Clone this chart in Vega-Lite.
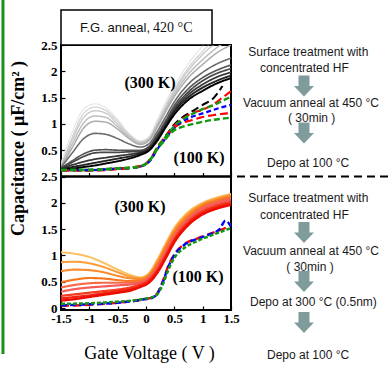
{
"$schema": "https://vega.github.io/schema/vega-lite/v6.json",
"width": 170,
"height": 265,
"autosize": {"type": "none"},
"padding": {"left": 61, "top": 45, "right": 159, "bottom": 56},
"background": "white",
"config": {
  "view": {"stroke": null},
  "axis": {"labelFont": "Liberation Serif", "labelFontWeight": "bold", "labelFontSize": 13, "labelColor": "#000", "tickColor": "#000", "tickWidth": 1.2, "grid": false, "domain": false, "labelFlush": false, "labelOverlap": false}
},
"datasets": {
  "top": [
    {"s":"g1","v":-1.5,"c":0.25},{"s":"g1","v":-1.3,"c":0.85},{"s":"g1","v":-1.1,"c":1.28},{"s":"g1","v":-0.9,"c":1.38},{"s":"g1","v":-0.7,"c":1.3},{"s":"g1","v":-0.5,"c":1.08},{"s":"g1","v":-0.3,"c":0.82},{"s":"g1","v":-0.1,"c":0.68},{"s":"g1","v":0.05,"c":0.76},{"s":"g1","v":0.2,"c":1.08},{"s":"g1","v":0.35,"c":1.42},{"s":"g1","v":0.5,"c":1.72},{"s":"g1","v":0.75,"c":2.15},{"s":"g1","v":1,"c":2.48},{"s":"g1","v":1.25,"c":2.8},{"s":"g1","v":1.5,"c":3.05},
    {"s":"g2","v":-1.5,"c":0.2},{"s":"g2","v":-1.3,"c":0.75},{"s":"g2","v":-1.1,"c":1.2},{"s":"g2","v":-0.9,"c":1.32},{"s":"g2","v":-0.7,"c":1.25},{"s":"g2","v":-0.5,"c":1.05},{"s":"g2","v":-0.3,"c":0.8},{"s":"g2","v":-0.1,"c":0.66},{"s":"g2","v":0.05,"c":0.73},{"s":"g2","v":0.2,"c":1.03},{"s":"g2","v":0.35,"c":1.36},{"s":"g2","v":0.5,"c":1.66},{"s":"g2","v":0.75,"c":2.07},{"s":"g2","v":1,"c":2.38},{"s":"g2","v":1.25,"c":2.65},{"s":"g2","v":1.5,"c":2.88},
    {"s":"g3","v":-1.5,"c":0.2},{"s":"g3","v":-1.3,"c":0.7},{"s":"g3","v":-1.1,"c":1.12},{"s":"g3","v":-0.9,"c":1.25},{"s":"g3","v":-0.7,"c":1.2},{"s":"g3","v":-0.5,"c":1.0},{"s":"g3","v":-0.3,"c":0.78},{"s":"g3","v":-0.1,"c":0.65},{"s":"g3","v":0.05,"c":0.72},{"s":"g3","v":0.2,"c":1.0},{"s":"g3","v":0.35,"c":1.32},{"s":"g3","v":0.5,"c":1.62},{"s":"g3","v":0.75,"c":2.02},{"s":"g3","v":1,"c":2.32},{"s":"g3","v":1.25,"c":2.56},{"s":"g3","v":1.5,"c":2.75},
    {"s":"g4","v":-1.5,"c":0.19},{"s":"g4","v":-1.3,"c":0.62},{"s":"g4","v":-1.1,"c":1.02},{"s":"g4","v":-0.9,"c":1.15},{"s":"g4","v":-0.7,"c":1.12},{"s":"g4","v":-0.5,"c":0.95},{"s":"g4","v":-0.3,"c":0.75},{"s":"g4","v":-0.1,"c":0.63},{"s":"g4","v":0.05,"c":0.7},{"s":"g4","v":0.2,"c":0.97},{"s":"g4","v":0.35,"c":1.28},{"s":"g4","v":0.5,"c":1.57},{"s":"g4","v":0.75,"c":1.95},{"s":"g4","v":1,"c":2.22},{"s":"g4","v":1.25,"c":2.45},{"s":"g4","v":1.5,"c":2.62},
    {"s":"g5","v":-1.5,"c":0.18},{"s":"g5","v":-1.3,"c":0.55},{"s":"g5","v":-1.1,"c":0.92},{"s":"g5","v":-0.9,"c":1.05},{"s":"g5","v":-0.7,"c":1.03},{"s":"g5","v":-0.5,"c":0.9},{"s":"g5","v":-0.3,"c":0.72},{"s":"g5","v":-0.1,"c":0.61},{"s":"g5","v":0.05,"c":0.68},{"s":"g5","v":0.2,"c":0.94},{"s":"g5","v":0.35,"c":1.24},{"s":"g5","v":0.5,"c":1.52},{"s":"g5","v":0.75,"c":1.88},{"s":"g5","v":1,"c":2.13},{"s":"g5","v":1.25,"c":2.35},{"s":"g5","v":1.5,"c":2.5},
    {"s":"g6","v":-1.5,"c":0.17},{"s":"g6","v":-1.3,"c":0.45},{"s":"g6","v":-1.1,"c":0.72},{"s":"g6","v":-0.9,"c":0.82},{"s":"g6","v":-0.7,"c":0.8},{"s":"g6","v":-0.5,"c":0.72},{"s":"g6","v":-0.3,"c":0.62},{"s":"g6","v":-0.1,"c":0.56},{"s":"g6","v":0.05,"c":0.62},{"s":"g6","v":0.2,"c":0.86},{"s":"g6","v":0.35,"c":1.14},{"s":"g6","v":0.5,"c":1.42},{"s":"g6","v":0.75,"c":1.76},{"s":"g6","v":1,"c":1.98},{"s":"g6","v":1.25,"c":2.14},{"s":"g6","v":1.5,"c":2.25},
    {"s":"g7","v":-1.5,"c":0.16},{"s":"g7","v":-1.3,"c":0.3},{"s":"g7","v":-1.1,"c":0.43},{"s":"g7","v":-0.9,"c":0.5},{"s":"g7","v":-0.7,"c":0.51},{"s":"g7","v":-0.5,"c":0.5},{"s":"g7","v":-0.3,"c":0.5},{"s":"g7","v":-0.1,"c":0.5},{"s":"g7","v":0.05,"c":0.57},{"s":"g7","v":0.2,"c":0.8},{"s":"g7","v":0.35,"c":1.07},{"s":"g7","v":0.5,"c":1.35},{"s":"g7","v":0.75,"c":1.67},{"s":"g7","v":1,"c":1.88},{"s":"g7","v":1.25,"c":2.02},{"s":"g7","v":1.5,"c":2.12},
    {"s":"g8","v":-1.5,"c":0.15},{"s":"g8","v":-1.3,"c":0.27},{"s":"g8","v":-1.1,"c":0.38},{"s":"g8","v":-0.9,"c":0.45},{"s":"g8","v":-0.7,"c":0.46},{"s":"g8","v":-0.5,"c":0.46},{"s":"g8","v":-0.3,"c":0.47},{"s":"g8","v":-0.1,"c":0.48},{"s":"g8","v":0.05,"c":0.55},{"s":"g8","v":0.2,"c":0.77},{"s":"g8","v":0.35,"c":1.03},{"s":"g8","v":0.5,"c":1.3},{"s":"g8","v":0.75,"c":1.61},{"s":"g8","v":1,"c":1.82},{"s":"g8","v":1.25,"c":1.96},{"s":"g8","v":1.5,"c":2.05},
    {"s":"g9","v":-1.5,"c":0.15},{"s":"g9","v":-1.3,"c":0.22},{"s":"g9","v":-1.1,"c":0.28},{"s":"g9","v":-0.9,"c":0.33},{"s":"g9","v":-0.7,"c":0.36},{"s":"g9","v":-0.5,"c":0.39},{"s":"g9","v":-0.3,"c":0.42},{"s":"g9","v":-0.1,"c":0.46},{"s":"g9","v":0.05,"c":0.53},{"s":"g9","v":0.2,"c":0.74},{"s":"g9","v":0.35,"c":1.0},{"s":"g9","v":0.5,"c":1.26},{"s":"g9","v":0.75,"c":1.56},{"s":"g9","v":1,"c":1.75},{"s":"g9","v":1.25,"c":1.89},{"s":"g9","v":1.5,"c":1.98},
    {"s":"g10","v":-1.5,"c":0.14},{"s":"g10","v":-1.3,"c":0.18},{"s":"g10","v":-1.1,"c":0.22},{"s":"g10","v":-0.9,"c":0.26},{"s":"g10","v":-0.7,"c":0.3},{"s":"g10","v":-0.5,"c":0.34},{"s":"g10","v":-0.3,"c":0.38},{"s":"g10","v":-0.1,"c":0.44},{"s":"g10","v":0.05,"c":0.51},{"s":"g10","v":0.2,"c":0.71},{"s":"g10","v":0.35,"c":0.97},{"s":"g10","v":0.5,"c":1.23},{"s":"g10","v":0.75,"c":1.51},{"s":"g10","v":1,"c":1.69},{"s":"g10","v":1.25,"c":1.82},{"s":"g10","v":1.5,"c":1.92},
    {"s":"g11","v":-1.5,"c":0.13},{"s":"g11","v":-1.3,"c":0.15},{"s":"g11","v":-1.1,"c":0.18},{"s":"g11","v":-0.9,"c":0.21},{"s":"g11","v":-0.7,"c":0.25},{"s":"g11","v":-0.5,"c":0.29},{"s":"g11","v":-0.3,"c":0.34},{"s":"g11","v":-0.1,"c":0.41},{"s":"g11","v":0.05,"c":0.49},{"s":"g11","v":0.2,"c":0.68},{"s":"g11","v":0.35,"c":0.94},{"s":"g11","v":0.5,"c":1.18},{"s":"g11","v":0.75,"c":1.46},{"s":"g11","v":1,"c":1.63},{"s":"g11","v":1.25,"c":1.77},{"s":"g11","v":1.5,"c":1.87},
    {"s":"k","v":-1.5,"c":0.13},{"s":"k","v":-1,"c":0.13},{"s":"k","v":-0.5,"c":0.15},{"s":"k","v":-0.2,"c":0.17},{"s":"k","v":0,"c":0.24},{"s":"k","v":0.1,"c":0.36},{"s":"k","v":0.2,"c":0.55},{"s":"k","v":0.3,"c":0.7},{"s":"k","v":0.4,"c":0.85},{"s":"k","v":0.5,"c":0.99},{"s":"k","v":0.6,"c":1.09},{"s":"k","v":0.8,"c":1.23},{"s":"k","v":1,"c":1.36},{"s":"k","v":1.2,"c":1.5},{"s":"k","v":1.35,"c":1.72},
    {"s":"r1","v":-1.5,"c":0.12},{"s":"r1","v":-1,"c":0.12},{"s":"r1","v":-0.5,"c":0.15},{"s":"r1","v":-0.2,"c":0.18},{"s":"r1","v":0,"c":0.25},{"s":"r1","v":0.1,"c":0.37},{"s":"r1","v":0.2,"c":0.56},{"s":"r1","v":0.3,"c":0.7},{"s":"r1","v":0.4,"c":0.84},{"s":"r1","v":0.5,"c":0.97},{"s":"r1","v":0.6,"c":1.06},{"s":"r1","v":0.8,"c":1.2},{"s":"r1","v":1,"c":1.27},{"s":"r1","v":1.2,"c":1.38},{"s":"r1","v":1.35,"c":1.5},{"s":"r1","v":1.5,"c":1.62},
    {"s":"r2","v":-1.5,"c":0.11},{"s":"r2","v":-1,"c":0.11},{"s":"r2","v":-0.5,"c":0.14},{"s":"r2","v":-0.2,"c":0.17},{"s":"r2","v":0,"c":0.24},{"s":"r2","v":0.1,"c":0.35},{"s":"r2","v":0.2,"c":0.53},{"s":"r2","v":0.3,"c":0.67},{"s":"r2","v":0.4,"c":0.81},{"s":"r2","v":0.5,"c":0.93},{"s":"r2","v":0.6,"c":1.0},{"s":"r2","v":0.8,"c":1.07},{"s":"r2","v":1,"c":1.13},{"s":"r2","v":1.2,"c":1.17},{"s":"r2","v":1.35,"c":1.19},{"s":"r2","v":1.5,"c":1.21},
    {"s":"b","v":-1.5,"c":0.12},{"s":"b","v":-1,"c":0.12},{"s":"b","v":-0.5,"c":0.15},{"s":"b","v":-0.2,"c":0.17},{"s":"b","v":0,"c":0.23},{"s":"b","v":0.1,"c":0.34},{"s":"b","v":0.2,"c":0.52},{"s":"b","v":0.3,"c":0.66},{"s":"b","v":0.4,"c":0.8},{"s":"b","v":0.5,"c":0.93},{"s":"b","v":0.6,"c":1.02},{"s":"b","v":0.8,"c":1.13},{"s":"b","v":1,"c":1.2},{"s":"b","v":1.2,"c":1.27},{"s":"b","v":1.35,"c":1.32},{"s":"b","v":1.5,"c":1.36},
    {"s":"e1","v":-1.5,"c":0.13},{"s":"e1","v":-1,"c":0.13},{"s":"e1","v":-0.5,"c":0.16},{"s":"e1","v":-0.2,"c":0.18},{"s":"e1","v":0,"c":0.25},{"s":"e1","v":0.1,"c":0.36},{"s":"e1","v":0.2,"c":0.55},{"s":"e1","v":0.3,"c":0.69},{"s":"e1","v":0.4,"c":0.83},{"s":"e1","v":0.5,"c":0.96},{"s":"e1","v":0.6,"c":1.05},{"s":"e1","v":0.8,"c":1.18},{"s":"e1","v":1,"c":1.28},{"s":"e1","v":1.2,"c":1.36},{"s":"e1","v":1.35,"c":1.44},{"s":"e1","v":1.5,"c":1.52},
    {"s":"e2","v":-1.5,"c":0.12},{"s":"e2","v":-1,"c":0.12},{"s":"e2","v":-0.5,"c":0.15},{"s":"e2","v":-0.2,"c":0.17},{"s":"e2","v":0,"c":0.24},{"s":"e2","v":0.1,"c":0.35},{"s":"e2","v":0.2,"c":0.52},{"s":"e2","v":0.3,"c":0.65},{"s":"e2","v":0.4,"c":0.78},{"s":"e2","v":0.5,"c":0.88},{"s":"e2","v":0.6,"c":0.93},{"s":"e2","v":0.8,"c":0.99},{"s":"e2","v":1,"c":1.04},{"s":"e2","v":1.2,"c":1.08},{"s":"e2","v":1.35,"c":1.1},{"s":"e2","v":1.5,"c":1.12}
  ],
  "bot": [
    {"s":"o1","v":-1.5,"c":1.06},{"s":"o1","v":-1.25,"c":1.03},{"s":"o1","v":-1,"c":0.97},{"s":"o1","v":-0.75,"c":0.86},{"s":"o1","v":-0.5,"c":0.73},{"s":"o1","v":-0.25,"c":0.62},{"s":"o1","v":-0.1,"c":0.58},{"s":"o1","v":0.05,"c":0.66},{"s":"o1","v":0.2,"c":0.92},{"s":"o1","v":0.35,"c":1.23},{"s":"o1","v":0.5,"c":1.52},{"s":"o1","v":0.75,"c":1.83},{"s":"o1","v":1,"c":2.0},{"s":"o1","v":1.25,"c":2.1},{"s":"o1","v":1.5,"c":2.17},
    {"s":"o2","v":-1.5,"c":0.87},{"s":"o2","v":-1.25,"c":0.88},{"s":"o2","v":-1,"c":0.85},{"s":"o2","v":-0.75,"c":0.78},{"s":"o2","v":-0.5,"c":0.68},{"s":"o2","v":-0.25,"c":0.59},{"s":"o2","v":-0.1,"c":0.57},{"s":"o2","v":0.05,"c":0.64},{"s":"o2","v":0.2,"c":0.89},{"s":"o2","v":0.35,"c":1.2},{"s":"o2","v":0.5,"c":1.49},{"s":"o2","v":0.75,"c":1.8},{"s":"o2","v":1,"c":1.98},{"s":"o2","v":1.25,"c":2.08},{"s":"o2","v":1.5,"c":2.15},
    {"s":"o3","v":-1.5,"c":0.7},{"s":"o3","v":-1.25,"c":0.73},{"s":"o3","v":-1,"c":0.72},{"s":"o3","v":-0.75,"c":0.68},{"s":"o3","v":-0.5,"c":0.61},{"s":"o3","v":-0.25,"c":0.56},{"s":"o3","v":-0.1,"c":0.55},{"s":"o3","v":0.05,"c":0.62},{"s":"o3","v":0.2,"c":0.86},{"s":"o3","v":0.35,"c":1.17},{"s":"o3","v":0.5,"c":1.46},{"s":"o3","v":0.75,"c":1.77},{"s":"o3","v":1,"c":1.96},{"s":"o3","v":1.25,"c":2.06},{"s":"o3","v":1.5,"c":2.13},
    {"s":"o4","v":-1.5,"c":0.49},{"s":"o4","v":-1.25,"c":0.54},{"s":"o4","v":-1,"c":0.57},{"s":"o4","v":-0.75,"c":0.56},{"s":"o4","v":-0.5,"c":0.53},{"s":"o4","v":-0.25,"c":0.51},{"s":"o4","v":-0.1,"c":0.52},{"s":"o4","v":0.05,"c":0.6},{"s":"o4","v":0.2,"c":0.83},{"s":"o4","v":0.35,"c":1.13},{"s":"o4","v":0.5,"c":1.42},{"s":"o4","v":0.75,"c":1.74},{"s":"o4","v":1,"c":1.94},{"s":"o4","v":1.25,"c":2.04},{"s":"o4","v":1.5,"c":2.11},
    {"s":"o5","v":-1.5,"c":0.39},{"s":"o5","v":-1.25,"c":0.44},{"s":"o5","v":-1,"c":0.47},{"s":"o5","v":-0.75,"c":0.48},{"s":"o5","v":-0.5,"c":0.48},{"s":"o5","v":-0.25,"c":0.48},{"s":"o5","v":-0.1,"c":0.5},{"s":"o5","v":0.05,"c":0.58},{"s":"o5","v":0.2,"c":0.8},{"s":"o5","v":0.35,"c":1.1},{"s":"o5","v":0.5,"c":1.39},{"s":"o5","v":0.75,"c":1.71},{"s":"o5","v":1,"c":1.91},{"s":"o5","v":1.25,"c":2.02},{"s":"o5","v":1.5,"c":2.09},
    {"s":"o6","v":-1.5,"c":0.31},{"s":"o6","v":-1.25,"c":0.36},{"s":"o6","v":-1,"c":0.39},{"s":"o6","v":-0.75,"c":0.41},{"s":"o6","v":-0.5,"c":0.43},{"s":"o6","v":-0.25,"c":0.45},{"s":"o6","v":-0.1,"c":0.48},{"s":"o6","v":0.05,"c":0.56},{"s":"o6","v":0.2,"c":0.77},{"s":"o6","v":0.35,"c":1.06},{"s":"o6","v":0.5,"c":1.35},{"s":"o6","v":0.75,"c":1.68},{"s":"o6","v":1,"c":1.88},{"s":"o6","v":1.25,"c":1.99},{"s":"o6","v":1.5,"c":2.06},
    {"s":"o7","v":-1.5,"c":0.23},{"s":"o7","v":-1.25,"c":0.26},{"s":"o7","v":-1,"c":0.29},{"s":"o7","v":-0.75,"c":0.32},{"s":"o7","v":-0.5,"c":0.35},{"s":"o7","v":-0.25,"c":0.4},{"s":"o7","v":-0.1,"c":0.45},{"s":"o7","v":0.05,"c":0.53},{"s":"o7","v":0.2,"c":0.73},{"s":"o7","v":0.35,"c":1.01},{"s":"o7","v":0.5,"c":1.31},{"s":"o7","v":0.75,"c":1.64},{"s":"o7","v":1,"c":1.84},{"s":"o7","v":1.25,"c":1.95},{"s":"o7","v":1.5,"c":2.02},
    {"s":"o8","v":-1.5,"c":0.18},{"s":"o8","v":-1.25,"c":0.21},{"s":"o8","v":-1,"c":0.24},{"s":"o8","v":-0.75,"c":0.28},{"s":"o8","v":-0.5,"c":0.32},{"s":"o8","v":-0.25,"c":0.37},{"s":"o8","v":-0.1,"c":0.42},{"s":"o8","v":0.05,"c":0.5},{"s":"o8","v":0.2,"c":0.7},{"s":"o8","v":0.35,"c":0.98},{"s":"o8","v":0.5,"c":1.28},{"s":"o8","v":0.75,"c":1.61},{"s":"o8","v":1,"c":1.81},{"s":"o8","v":1.25,"c":1.92},{"s":"o8","v":1.5,"c":1.99},
    {"s":"o9","v":-1.5,"c":0.14},{"s":"o9","v":-1.25,"c":0.17},{"s":"o9","v":-1,"c":0.21},{"s":"o9","v":-0.75,"c":0.25},{"s":"o9","v":-0.5,"c":0.29},{"s":"o9","v":-0.25,"c":0.34},{"s":"o9","v":-0.1,"c":0.4},{"s":"o9","v":0.05,"c":0.48},{"s":"o9","v":0.2,"c":0.67},{"s":"o9","v":0.35,"c":0.95},{"s":"o9","v":0.5,"c":1.25},{"s":"o9","v":0.75,"c":1.58},{"s":"o9","v":1,"c":1.78},{"s":"o9","v":1.25,"c":1.89},{"s":"o9","v":1.5,"c":1.96},
    {"s":"br","v":-1.5,"c":0.04},{"s":"br","v":-1,"c":0.06},{"s":"br","v":-0.5,"c":0.1},{"s":"br","v":-0.25,"c":0.13},{"s":"br","v":0,"c":0.17},{"s":"br","v":0.1,"c":0.2},{"s":"br","v":0.2,"c":0.28},{"s":"br","v":0.3,"c":0.52},{"s":"br","v":0.4,"c":0.82},{"s":"br","v":0.5,"c":1.02},{"s":"br","v":0.7,"c":1.23},{"s":"br","v":0.9,"c":1.32},{"s":"br","v":1.1,"c":1.4},{"s":"br","v":1.3,"c":1.48},{"s":"br","v":1.4,"c":1.52},{"s":"br","v":1.5,"c":1.6},
    {"s":"bb","v":-1.5,"c":0.05},{"s":"bb","v":-1,"c":0.07},{"s":"bb","v":-0.5,"c":0.1},{"s":"bb","v":-0.25,"c":0.13},{"s":"bb","v":0,"c":0.17},{"s":"bb","v":0.1,"c":0.19},{"s":"bb","v":0.2,"c":0.27},{"s":"bb","v":0.3,"c":0.5},{"s":"bb","v":0.4,"c":0.8},{"s":"bb","v":0.5,"c":1.0},{"s":"bb","v":0.7,"c":1.22},{"s":"bb","v":0.9,"c":1.31},{"s":"bb","v":1.1,"c":1.39},{"s":"bb","v":1.3,"c":1.5},{"s":"bb","v":1.4,"c":1.66},{"s":"bb","v":1.5,"c":1.55},
    {"s":"bg","v":-1.5,"c":0.08},{"s":"bg","v":-1,"c":0.09},{"s":"bg","v":-0.5,"c":0.12},{"s":"bg","v":-0.25,"c":0.14},{"s":"bg","v":0,"c":0.18},{"s":"bg","v":0.1,"c":0.2},{"s":"bg","v":0.2,"c":0.26},{"s":"bg","v":0.3,"c":0.46},{"s":"bg","v":0.4,"c":0.74},{"s":"bg","v":0.5,"c":0.95},{"s":"bg","v":0.7,"c":1.16},{"s":"bg","v":0.9,"c":1.27},{"s":"bg","v":1.1,"c":1.36},{"s":"bg","v":1.3,"c":1.44},{"s":"bg","v":1.4,"c":1.48},{"s":"bg","v":1.5,"c":1.52}
  ],
  "notes": [
    {"v":1.805,"c":4.873,"t":"Surface treatment with"},
    {"v":2.012,"c":4.557,"t":"concentrated HF"},
    {"v":1.712,"c":3.892,"t":"Vacuum anneal at 450 °C"},
    {"v":2.506,"c":3.606,"t":"( 30min )"},
    {"v":2.135,"c":2.751,"t":"Depo at 100 °C"},
    {"v":1.805,"c":2.086,"t":"Surface treatment with"},
    {"v":2.012,"c":1.768,"t":"concentrated HF"},
    {"v":1.712,"c":1.089,"t":"Vacuum anneal at 450 °C"},
    {"v":2.476,"c":0.785,"t":"( 30min )"},
    {"v":1.835,"c":0.12,"t":"Depo at 300 °C (0.5nm)"},
    {"v":2.135,"c":-0.894,"t":"Depo at 100 °C"}
  ],
  "arrows": [
    {"v":2.788,"c":4.221},{"v":2.788,"c":3.327},{"v":2.788,"c":1.435},{"v":2.788,"c":0.504},{"v":2.788,"c":-0.276}
  ]
},
"layer": [
  {
    "layer": [
      {
        "data": {"values": [{}]},
        "mark": {"type": "rect", "filled": false, "stroke": "#000", "strokeWidth": 2},
        "encoding": {
          "x": {"datum": -1.5, "type": "quantitative", "scale": {"domain": [-1.5, 1.5], "nice": false, "zero": false},
                "axis": {"orient": "bottom", "offset": -133.5, "values": [-1.5, -1, -0.5, 0, 0.5, 1, 1.5], "tickCount": 20, "labels": false, "tickSize": -4, "title": null}},
          "x2": {"datum": 1.5},
          "y": {"datum": 0, "type": "quantitative", "scale": {"domain": [-2.538, 2.5], "nice": false, "zero": false},
                "axis": {"orient": "left", "values": [0.5, 1, 1.5, 2, 2.5], "tickCount": 20, "tickSize": -4, "labelPadding": 8, "labelOverlap": false,
                         "labelExpr": "(datum.value < 0 ? '-' : '') + format(abs(datum.value), '~g')",
                         "title": "Capacitance ( μF/cm² )", "titleFont": "Liberation Serif", "titleFontWeight": "bold", "titleFontSize": 18,
                         "titleX": -43, "titleY": 103, "titleAngle": -90, "titleBaseline": "middle", "titleAlign": "center", "titleColor": "#000"}},
          "y2": {"datum": 2.5}
        }
      },
      {
        "data": {"name": "top"},
        "mark": {"type": "line", "interpolate": "monotone", "clip": true},
        "encoding": {
          "x": {"field": "v", "type": "quantitative"},
          "y": {"field": "c", "type": "quantitative"},
          "color": {"field": "s", "type": "nominal", "legend": null,
                    "scale": {"domain": ["g1","g2","g3","g4","g5","g6","g7","g8","g9","g10","g11","k","r1","r2","b","e1","e2"],
                              "range": ["#e6e6e6","#d4d4d4","#c8c8c8","#bcbcbc","#acacac","#6a6a6a","#555555","#474747","#383838","#222222","#000000","#000000","#ff0000","#ff0000","#0000ff","#119911","#119911"]}},
          "strokeWidth": {"field": "s", "type": "nominal", "legend": null,
                    "scale": {"domain": ["g1","g2","g3","g4","g5","g6","g7","g8","g9","g10","g11","k","r1","r2","b","e1","e2"],
                              "range": [1.2,2.4,2.4,2.4,2.4,2,1.8,1.8,1.8,1.8,3.2,3,3,3,1.8,2.4,2.4]}},
          "strokeDash": {"field": "s", "type": "nominal", "legend": null,
                    "scale": {"domain": ["g1","g2","g3","g4","g5","g6","g7","g8","g9","g10","g11","k","r1","r2","b","e1","e2"],
                              "range": [[1,0],[1,0],[1,0],[1,0],[1,0],[1,0],[1,0],[1,0],[1,0],[1,0],[1,0],[8,4],[8,4],[8,4],[5,3],[6,3],[6,3]]}}
        }
      },
      {
        "data": {"values": [{}]},
        "mark": {"type": "text", "text": "(300 K)", "font": "Liberation Serif", "fontWeight": "bold", "fontSize": 16, "color": "#000", "align": "center", "baseline": "middle"},
        "encoding": {"x": {"datum": 0.071}, "y": {"datum": 1.778}}
      },
      {
        "data": {"values": [{}]},
        "mark": {"type": "text", "text": "(100 K)", "font": "Liberation Serif", "fontWeight": "bold", "fontSize": 16, "color": "#000", "align": "center", "baseline": "middle"},
        "encoding": {"x": {"datum": 0.935}, "y": {"datum": 0.352}}
      }
    ]
  },
  {
    "layer": [
      {
        "data": {"values": [{}]},
        "mark": {"type": "rect", "filled": false, "stroke": "#000", "strokeWidth": 2},
        "encoding": {
          "x": {"datum": -1.5, "type": "quantitative", "scale": {"domain": [-1.5, 1.5], "nice": false, "zero": false},
                "axis": {"orient": "bottom", "values": [-1.5, -1, -0.5, 0, 0.5, 1, 1.5], "tickCount": 20, "tickSize": -4, "labelPadding": 6, "labelOverlap": false,
                         "labelExpr": "(datum.value < 0 ? '-' : '') + format(abs(datum.value), '~g')",
                         "title": "Gate Voltage ( V )", "titleFont": "Liberation Serif", "titleFontWeight": "normal", "titleFontSize": 18,
                         "titleX": 88, "titleY": 43, "titleBaseline": "middle", "titleColor": "#000"}},
          "x2": {"datum": 1.5},
          "y": {"datum": -0.038, "type": "quantitative", "scale": {"domain": [-0.038, 5], "nice": false, "zero": false},
                "axis": {"orient": "left", "values": [0, 0.5, 1, 1.5, 2, 2.5], "tickCount": 20, "tickSize": -4, "labelPadding": 8, "labelOverlap": false,
                         "labelExpr": "(datum.value < 0 ? '-' : '') + format(abs(datum.value), '~g')", "title": null}},
          "y2": {"datum": 2.5}
        }
      },
      {
        "data": {"name": "bot"},
        "mark": {"type": "line", "interpolate": "monotone", "clip": true},
        "encoding": {
          "x": {"field": "v", "type": "quantitative"},
          "y": {"field": "c", "type": "quantitative"},
          "color": {"field": "s", "type": "nominal", "legend": null,
                    "scale": {"domain": ["o1","o2","o3","o4","o5","o6","o7","o8","o9","br","bb","bg"],
                              "range": ["#fdc060","#fb9e3a","#f98c2e","#f8761e","#f66a48","#f55a5a","#f33b22","#f12410","#ee0a00","#ff0000","#0000ff","#119911"]}},
          "strokeWidth": {"field": "s", "type": "nominal", "legend": null,
                    "scale": {"domain": ["o1","o2","o3","o4","o5","o6","o7","o8","o9","br","bb","bg"],
                              "range": [2,2.5,1.5,2.5,2,2,3,3,3,3,2.5,1.3]}},
          "strokeDash": {"field": "s", "type": "nominal", "legend": null,
                    "scale": {"domain": ["o1","o2","o3","o4","o5","o6","o7","o8","o9","br","bb","bg"],
                              "range": [[1,0],[1,0],[1,0],[1,0],[1,0],[1,0],[1,0],[1,0],[1,0],[8,4],[6,3],[4,2]]}}
        }
      },
      {
        "data": {"values": [{}]},
        "mark": {"type": "text", "text": "(300 K)", "font": "Liberation Serif", "fontWeight": "bold", "fontSize": 16, "color": "#000", "align": "center", "baseline": "middle"},
        "encoding": {"x": {"datum": -0.106}, "y": {"datum": 1.926}}
      },
      {
        "data": {"values": [{}]},
        "mark": {"type": "text", "text": "(100 K)", "font": "Liberation Serif", "fontWeight": "bold", "fontSize": 16, "color": "#000", "align": "center", "baseline": "middle"},
        "encoding": {"x": {"datum": 0.918}, "y": {"datum": 0.595}}
      },
      {
        "data": {"values": [{}]},
        "mark": {"type": "rect", "fill": "#fff", "stroke": "#000", "strokeWidth": 1.5},
        "encoding": {"x": {"datum": -1.5}, "x2": {"datum": 1.165}, "y": {"datum": 5.0}, "y2": {"datum": 5.665}}
      },
      {
        "data": {"values": [{}]},
        "mark": {"type": "text", "text": "F.G. anneal,", "font": "Liberation Sans", "fontSize": 13, "color": "#111", "align": "left", "baseline": "middle"},
        "encoding": {"x": {"datum": -1.165}, "y": {"datum": 5.323}}
      },
      {
        "data": {"values": [{}]},
        "mark": {"type": "text", "text": "420 °C", "font": "Liberation Serif", "fontSize": 14, "color": "#111", "align": "left", "baseline": "middle"},
        "encoding": {"x": {"datum": 0.124}, "y": {"datum": 5.323}}
      },
      {
        "data": {"values": [{}]},
        "mark": {"type": "rule", "color": "#1e8f1e", "strokeWidth": 3},
        "encoding": {"x": {"datum": -2.524}, "y": {"datum": 5.9}, "y2": {"datum": -0.875}}
      },
      {
        "data": {"values": [{}]},
        "mark": {"type": "rule", "color": "#000", "strokeWidth": 2, "strokeDash": [8, 5]},
        "encoding": {"x": {"datum": 1.606}, "x2": {"datum": 4.4}, "y": {"datum": 2.5}}
      },
      {
        "data": {"name": "notes"},
        "mark": {"type": "text", "font": "Liberation Sans", "fontSize": 12, "color": "#1a1a1a", "align": "left", "baseline": "middle"},
        "encoding": {"x": {"field": "v", "type": "quantitative"}, "y": {"field": "c", "type": "quantitative"}, "text": {"field": "t"}}
      },
      {
        "data": {"name": "arrows"},
        "mark": {"type": "point", "shape": "M -0.55 -1.05 L 0.55 -1.05 L 0.55 0 L 1 0 L 0 1.05 L -1 0 L -0.55 0 Z", "filled": true, "fill": "#7f9b9b", "opacity": 1, "size": 400, "strokeWidth": 0},
        "encoding": {"x": {"field": "v", "type": "quantitative"}, "y": {"field": "c", "type": "quantitative"}}
      }
    ]
  }
],
"resolve": {"scale": {"x": "independent", "y": "independent", "color": "independent", "strokeWidth": "independent", "strokeDash": "independent"}}
}
